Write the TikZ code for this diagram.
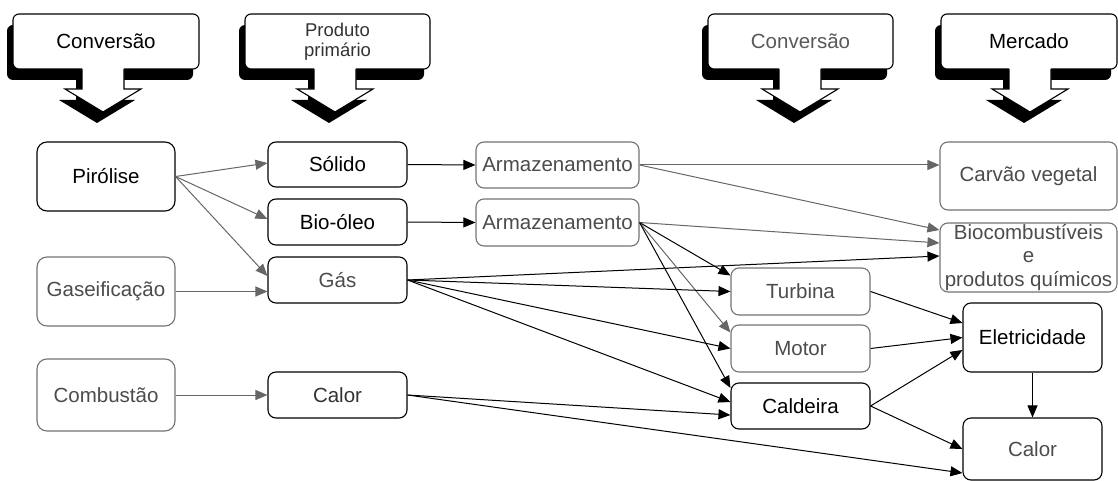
\documentclass[tikz,border=0pt]{standalone}
\usepackage{fontspec}
\setmainfont{Liberation Sans}
\usetikzlibrary{arrows.meta,calc}
\newcommand{\hdrcall}[6]{%
  % #1 name, #2 box centre x, #3 box width, #4 arrow centre x, #5 text style, #6 text
  \fill[black,rounded corners=6pt] ({#2-#3/2-6},25) rectangle ({#2+#3/2-6},80);
  \fill[black] ({#4-27},78) -- ({#4-27},100) -- ({#4-44},100) -- ({#4-6},123)
     -- ({#4+32},100) -- ({#4+15},100) -- ({#4+15},78) -- cycle;
  \node[hbox, minimum width=#3pt, #5] (#1) at (#2,41.5) {#6};
  \fill[white] ({#4-21},67) -- ({#4-21},89) -- ({#4-38},89) -- (#4,112)
     -- ({#4+38},89) -- ({#4+21},89) -- ({#4+21},67) -- cycle;
  \draw[line width=1.1pt] ({#4-21},69) -- ({#4-21},89) -- ({#4-38},89) -- (#4,112)
     -- ({#4+38},89) -- ({#4+21},89) -- ({#4+21},69);
}
\begin{document}
\begin{tikzpicture}[x=1pt,y=-1pt,
  box/.style={draw=black, line width=1.1pt, rounded corners=8pt, fill=white,
    inner sep=0pt, align=center, minimum width=139pt, minimum height=46pt,
    font=\fontsize{20.5}{23.5}\selectfont},
  gbox/.style={box, draw=black!55, text=black!70},
  conn/.style={line width=1pt, -{Triangle[length=12pt,width=10pt]}},
  gconn/.style={conn, draw=black!60},
  hbox/.style={draw=black, line width=1.1pt, rounded corners=6pt, fill=white,
    minimum height=55pt, inner sep=0pt, align=center,
    font=\fontsize{20.5}{20}\selectfont}
]
\useasboundingbox (0,0) rectangle (1118,481);

% header callouts
\hdrcall{h1}{106}{186}{103}{}{Conversão}
\hdrcall{h2}{337.5}{185}{335}{text=black!80,font=\fontsize{18.5}{20}\selectfont}{Produto\\primário}
\hdrcall{h3}{800.5}{185}{800}{text=black!65}{Conversão}
\hdrcall{h4}{1029}{176}{1030}{}{Mercado}

% nodes
\node[box, minimum width=138pt, minimum height=69pt, rounded corners=10pt] (piro) at (106,176.5) {Pirólise};
\node[gbox, minimum width=138pt, minimum height=69pt, rounded corners=10pt] (gase) at (106,291.5) {Gaseificação};
\node[gbox, minimum width=138pt, minimum height=72pt, rounded corners=10pt] (comb) at (106,395) {Combustão};
\node[box, minimum height=45pt] (sol) at (337.5,164.5) {Sólido};
\node[box] (bio) at (337.5,222) {Bio-óleo};
\node[box, text=black!70] (gas) at (337.5,280) {Gás};
\node[box, text=black!80] (calm) at (337.5,395) {Calor};
\node[gbox, minimum width=163pt] (arm1) at (557.5,165) {Armazenamento};
\node[gbox, minimum width=163pt, minimum height=47pt] (arm2) at (557.5,222.5) {Armazenamento};
\node[gbox, minimum width=177pt, minimum height=68pt] (carv) at (1028.5,176) {Carvão vegetal};
\node[gbox, minimum width=177pt, minimum height=69pt] (bioc) at (1028.5,257.5) {Biocombustíveis\\e\\produtos químicos};
\node[gbox, minimum height=47pt] (turb) at (800.5,291.5) {Turbina};
\node[gbox, minimum height=47pt] (mot) at (800.5,348.5) {Motor};
\node[box] (cald) at (800.5,406) {Caldeira};
\node[box, minimum height=69pt] (elet) at (1032.5,337.5) {Eletricidade};
\node[box, text=black!70, minimum height=62pt] (calr) at (1032.5,449) {Calor};

% connectors
\draw[gconn] (piro.east) -- ([yshift=1.5pt]sol.west);
\draw[gconn] (piro.east) -- ([yshift=3pt]bio.west);
\draw[gconn] (piro.east) -- ([yshift=4pt]gas.west);
\draw[gconn] (gase.east) -- (gase.east -| gas.west);
\draw[gconn] (comb.east) -- (calm.west);
\draw[conn] (sol.east) -- (arm1.west);
\draw[conn] (bio.east) -- (arm2.west);
\draw[gconn] (arm1.east) -- (arm1.east -| carv.west);
\draw[gconn] (arm1.east) -- ([yshift=27.5pt]bioc.west);
\draw[gconn] (arm2.east) -- ([yshift=14.5pt]bioc.west);
\draw[conn] (gas.east) -- ([yshift=1.5pt]bioc.west);
\draw[conn] (arm2.east) -- ([yshift=16pt]turb.west);
\draw[gconn] (arm2.east) -- ([yshift=16pt]mot.west);
\draw[conn] (arm2.east) -- ([yshift=18pt]cald.west);
\draw[conn] (gas.east) -- (turb.west);
\draw[conn] (gas.east) -- (mot.west);
\draw[conn] (gas.east) -- ([yshift=4pt]cald.west);
\draw[conn] (calm.east) -- ([yshift=-9pt]cald.west);
\draw[conn] (calm.east) -- ([yshift=-24pt]calr.west);
\draw[conn] (turb.east) -- ([yshift=14.5pt]elet.west);
\draw[conn] (mot.east) -- (elet.west);
\draw[conn] (cald.east) -- ([yshift=-12.5pt]elet.west);
\draw[conn] (cald.east) -- (calr.west);
\draw[conn] (elet.south) -- (calr.north);
\end{tikzpicture}
\end{document}
